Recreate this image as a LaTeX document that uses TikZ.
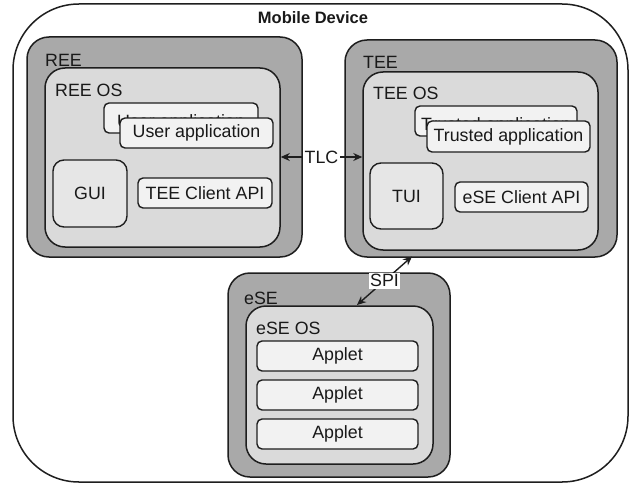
\documentclass[tikz,border=0pt]{standalone}
\usepackage{fontspec}
\setmainfont{Liberation Sans}
\usetikzlibrary{arrows.meta}
\definecolor{bandgray}{HTML}{A9A9A9}
\definecolor{osgray}{HTML}{DADADA}
\definecolor{boxgray}{HTML}{F2F2F2}
\definecolor{uigray}{HTML}{E6E6E6}
\definecolor{strokec}{HTML}{1E1E1E}
\newcommand{\hiddenlow}[1]{\raisebox{-5pt}[12.7pt][3.7pt]{#1}}
\begin{document}
\begin{tikzpicture}[x=1pt,y=-1pt,
  every node/.style={font=\fontsize{17.8}{20}\selectfont, text=black!90},
  zone/.style={draw=strokec, line width=1.5pt, fill=bandgray, rounded corners=22pt, inner sep=0pt},
  osbox/.style={draw=strokec, line width=1.5pt, fill=osgray, rounded corners=20pt, inner sep=0pt},
  appbox/.style={draw=strokec, line width=1.4pt, fill=boxgray, rounded corners=5pt, inner sep=0pt},
  uibox/.style={draw=strokec, line width=1.4pt, fill=uigray, rounded corners=11pt, inner sep=0pt},
  lbl/.style={anchor=west, inner sep=0pt},
  link/.style={line width=1.4pt, draw=strokec, {Stealth[length=9pt,width=8pt]}-{Stealth[length=9pt,width=8pt]}},
  linklbl/.style={fill=white, inner sep=1.5pt}
]
\useasboundingbox (0,0) rectangle (631,484);
% outer device
\node[draw=strokec, line width=1.5pt, fill=white, rounded corners=66pt, minimum width=615pt, minimum height=478pt, inner sep=0pt] (mobile) at (320.5,243) {};
\node[font=\bfseries\fontsize{16.5}{19}\selectfont] (title) at (313,18) {Mobile Device};

% REE
\node[zone, minimum width=275pt, minimum height=220pt] (ree) at (164.5,147) {};
\node[lbl] (reelbl) at (45,60) {REE};
\node[osbox, minimum width=235pt, minimum height=179pt] (reeos) at (162.5,157.5) {};
\node[lbl] (reeoslbl) at (55,90) {REE OS};
\node[appbox, minimum width=154pt, minimum height=30pt] (uapp1) at (181,118) {\hiddenlow{User application}};
\node[appbox, minimum width=153pt, minimum height=30pt] (uapp2) at (196.5,133) {User application};
\node[uibox, minimum width=74pt, minimum height=67pt] (gui) at (90,193.5) {GUI};
\node[appbox, minimum width=134pt, minimum height=30pt] (teeapi) at (205,193) {TEE Client API};

% TEE
\node[zone, minimum width=272pt, minimum height=217pt] (tee) at (481,148.5) {};
\node[lbl] (teelbl) at (363,62) {TEE};
\node[osbox, minimum width=235pt, minimum height=178pt] (teeos) at (480.5,161) {};
\node[lbl] (teeoslbl) at (373,93) {TEE OS};
\node[appbox, minimum width=162pt, minimum height=30pt] (tapp1) at (496,121) {\hiddenlow{Trusted application}};
\node[appbox, minimum width=163pt, minimum height=31pt] (tapp2) at (508.5,136.5) {Trusted application};
\node[uibox, minimum width=73pt, minimum height=66pt] (tui) at (406.5,196) {TUI};
\node[appbox, minimum width=133pt, minimum height=30pt] (eseapi) at (521.5,197) {eSE Client API};

% eSE
\node[zone, minimum width=222pt, minimum height=204pt] (ese) at (339,375) {};
\node[lbl] (eselbl) at (244,298) {eSE};
\node[osbox, minimum width=187pt, minimum height=158pt] (eseos) at (339.5,385) {};
\node[lbl] (eseoslbl) at (256,328) {eSE OS};
\node[appbox, minimum width=161pt, minimum height=30pt] (applet1) at (337.5,356) {Applet};
\node[appbox, minimum width=161pt, minimum height=30pt] (applet2) at (337.5,395) {Applet};
\node[appbox, minimum width=161pt, minimum height=30pt] (applet3) at (337.5,434) {Applet};

% connectors
\coordinate (tlcy) at (0,157);
\draw[link] (reeos.east |- tlcy) -- (teeos.west |- tlcy) node[midway, linklbl] (tlc) {TLC};
\coordinate (spiA) at (357,305);
\coordinate (spiB) at (412,256.5);
\draw[link] (spiA) -- (spiB) node[midway, linklbl] (spi) {SPI};
\end{tikzpicture}
\end{document}
